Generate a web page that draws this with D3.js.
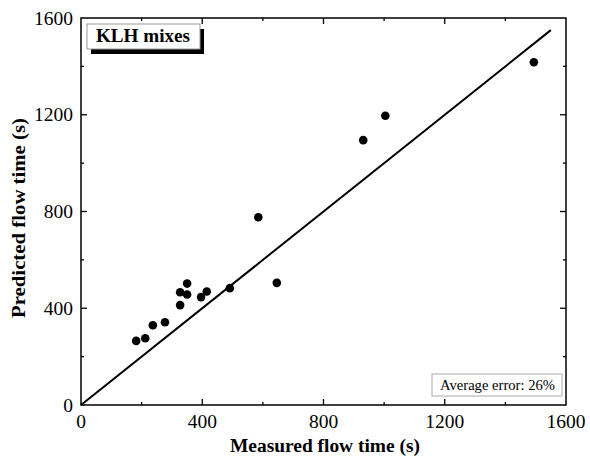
<!DOCTYPE html>
<html>
<head>
<meta charset="utf-8">
<script src="https://cdn.jsdelivr.net/npm/d3@7"></script>
<style>
  body { margin: 0; background: #fff; }
  text { font-family: "Liberation Serif", "Times New Roman", serif; fill: #000; }
</style>
</head>
<body>
<svg id="chart" width="590" height="459"></svg>
<script>
// measured vs predicted flow time, KLH mixes
const measured = [182, 212, 237, 277, 327, 327, 350, 350, 396, 415, 491, 585, 646, 931, 1004, 1494];
const predicted = [265, 276, 330, 342, 413, 466, 502, 457, 446, 469, 483, 776, 505, 1095, 1196, 1417];
const majorTicks = [0, 400, 800, 1200, 1600];
const minorTicks = [200, 600, 1000, 1400];
const fitLine = [0, 1550];

const margin = { top: 18, right: 24, bottom: 54, left: 81 };
const width = 590, height = 459;

const svg = d3.select("#chart");

const x = d3.scaleLinear().domain([0, 1600]).range([margin.left, width - margin.right]);
const y = d3.scaleLinear().domain([0, 1600]).range([height - margin.bottom, margin.top]);

const x0 = x(0), x1 = x(1600), y0 = y(0), y1 = y(1600);

// frame
svg.append("rect")
  .attr("x", x0).attr("y", y1)
  .attr("width", x1 - x0).attr("height", y0 - y1)
  .attr("fill", "none").attr("stroke", "#000").attr("stroke-width", 1.5);

// inward ticks on all four sides
const drawTicks = (vals, len) => {
  vals.forEach((v) => {
    svg.append("line").attr("x1", x(v)).attr("x2", x(v)).attr("y1", y0).attr("y2", y0 - len)
      .attr("stroke", "#000").attr("stroke-width", 1.3);
    svg.append("line").attr("x1", x(v)).attr("x2", x(v)).attr("y1", y1).attr("y2", y1 + len)
      .attr("stroke", "#000").attr("stroke-width", 1.3);
    svg.append("line").attr("y1", y(v)).attr("y2", y(v)).attr("x1", x0).attr("x2", x0 + len)
      .attr("stroke", "#000").attr("stroke-width", 1.3);
    svg.append("line").attr("y1", y(v)).attr("y2", y(v)).attr("x1", x1).attr("x2", x1 - len)
      .attr("stroke", "#000").attr("stroke-width", 1.3);
  });
};
drawTicks(majorTicks.slice(1, -1), 6);
drawTicks(minorTicks, 3);

// tick labels
svg.selectAll(".xl")
  .data(majorTicks)
  .join("text")
  .attr("x", (d) => x(d))
  .attr("y", 428)
  .attr("text-anchor", "middle")
  .attr("font-size", 19.5)
  .text((d) => d);

svg.selectAll(".yl")
  .data(majorTicks)
  .join("text")
  .attr("x", x0 - 8)
  .attr("y", (d) => y(d))
  .attr("dy", "0.34em")
  .attr("text-anchor", "end")
  .attr("font-size", 19.5)
  .text((d) => d);

// axis titles
svg.append("text")
  .attr("x", 230)
  .attr("y", 452)
  .attr("font-size", 18.5)
  .attr("font-weight", "bold")
  .attr("textLength", 190)
  .attr("lengthAdjust", "spacingAndGlyphs")
  .text("Measured flow time (s)");

svg.append("text")
  .attr("transform", "translate(25,318) rotate(-90)")
  .attr("font-size", 18.5)
  .attr("font-weight", "bold")
  .attr("textLength", 200)
  .attr("lengthAdjust", "spacingAndGlyphs")
  .text("Predicted flow time (s)");

// 1:1 line
svg.append("line")
  .attr("x1", x(fitLine[0])).attr("y1", y(fitLine[0]))
  .attr("x2", x(fitLine[1])).attr("y2", y(fitLine[1]))
  .attr("stroke", "#000").attr("stroke-width", 2);

// points
svg.selectAll(".pt")
  .data(measured.map((m, i) => [m, predicted[i]]))
  .join("circle")
  .attr("cx", (d) => x(d[0]))
  .attr("cy", (d) => y(d[1]))
  .attr("r", 4.3)
  .attr("fill", "#000");

// "KLH mixes" label box with shadow
svg.append("rect").attr("x", 91).attr("y", 29).attr("width", 113).attr("height", 25).attr("fill", "#000");
svg.append("rect").attr("x", 87).attr("y", 24).attr("width", 113).attr("height", 25)
  .attr("fill", "#fff").attr("stroke", "#999").attr("stroke-width", 1);
svg.append("text")
  .attr("x", 96).attr("y", 42)
  .attr("font-size", 19)
  .attr("font-weight", "bold")
  .attr("textLength", 94)
  .attr("lengthAdjust", "spacingAndGlyphs")
  .text("KLH mixes");

// average error box
svg.append("rect").attr("x", 432).attr("y", 374).attr("width", 130).attr("height", 22)
  .attr("fill", "#fff").attr("stroke", "#aaa").attr("stroke-width", 1);
svg.append("text")
  .attr("x", 440).attr("y", 390)
  .attr("font-size", 14)
  .attr("textLength", 115)
  .attr("lengthAdjust", "spacingAndGlyphs")
  .text("Average error: 26%");
</script>
</body>
</html>
